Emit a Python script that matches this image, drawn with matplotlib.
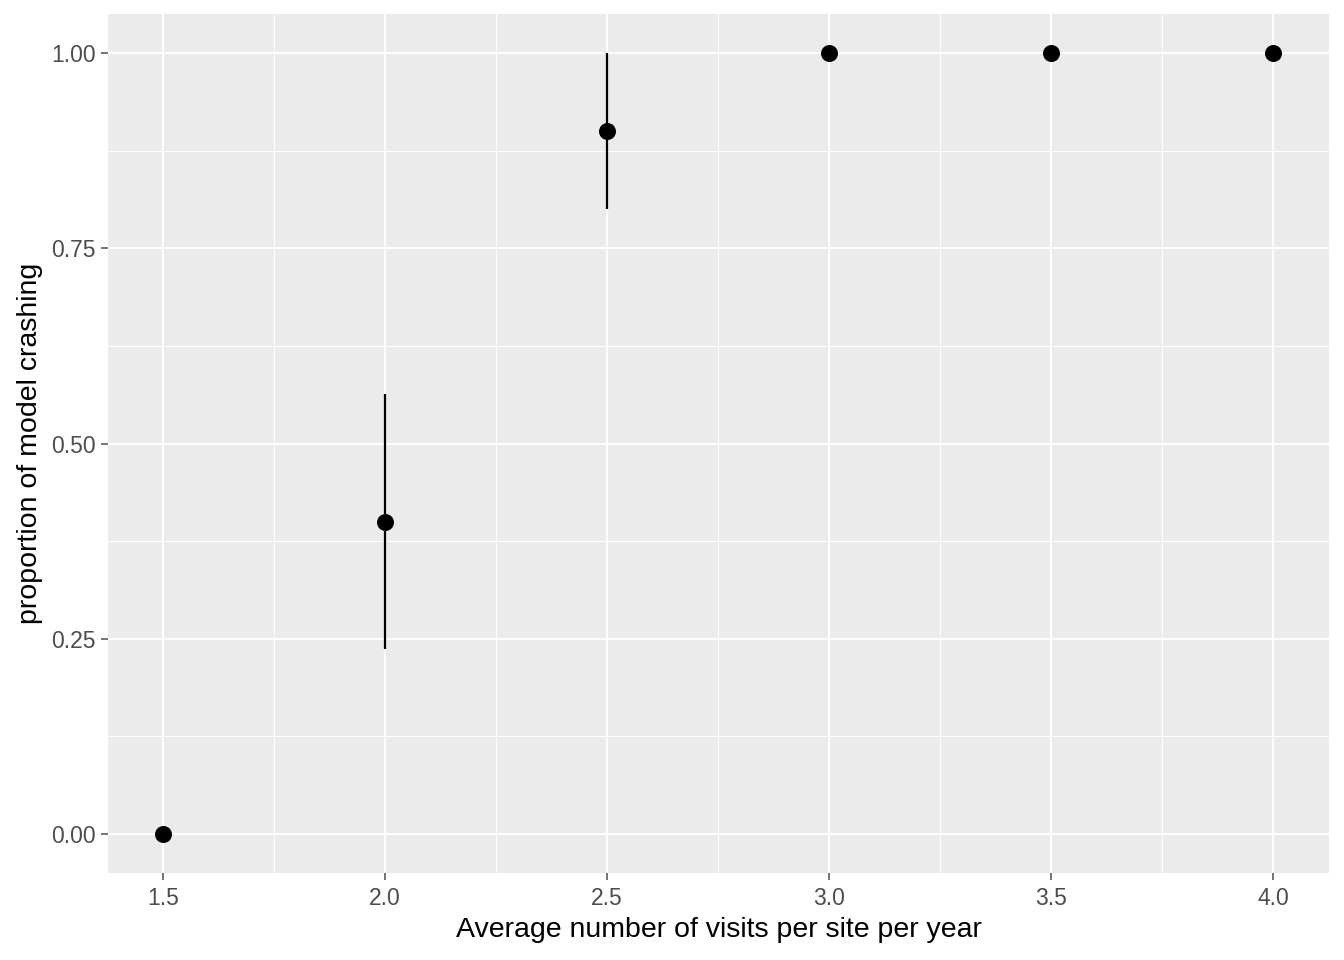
import numpy as np
import matplotlib.pyplot as plt

visits = [1.5, 2.0, 2.5, 3.0, 3.5, 4.0]
prop_crash = [0.0, 0.4, 0.9, 1.0, 1.0, 1.0]
lower = [0.0, 0.237, 0.8, 1.0, 1.0, 1.0]
upper = [0.0, 0.563, 1.0, 1.0, 1.0, 1.0]

xticks = [1.5, 2.0, 2.5, 3.0, 3.5, 4.0]
xticklabels = ['1.5', '2.0', '2.5', '3.0', '3.5', '4.0']
yticks = [0.0, 0.25, 0.5, 0.75, 1.0]
yticklabels = ['0.00', '0.25', '0.50', '0.75', '1.00']

plt.rcParams['font.family'] = ['Liberation Sans', 'DejaVu Sans']

fig = plt.figure(figsize=(13.44, 9.6), dpi=100)
ax = fig.add_axes([0.0804, 0.0906, 0.9084, 0.8948])
ax.set_facecolor('#EBEBEB')

# minor grid lines halfway between the breaks
for x in np.array(xticks[:-1]) + 0.25:
    ax.axvline(x, color='white', lw=0.7, zorder=0)
for y in np.array(yticks[:-1]) + 0.125:
    ax.axhline(y, color='white', lw=0.7, zorder=0)
for x in xticks:
    ax.axvline(x, color='white', lw=1.4, zorder=0)
for y in yticks:
    ax.axhline(y, color='white', lw=1.4, zorder=0)

ax.vlines(visits, lower, upper, color='black', lw=1.6, zorder=2)
ax.scatter(visits, prop_crash, s=150, color='black', zorder=3, linewidths=0)

ax.set_xlim(1.376, 4.126)
ax.set_ylim(-0.05, 1.05)
ax.set_xticks(xticks)
ax.set_xticklabels(xticklabels)
ax.set_yticks(yticks)
ax.set_yticklabels(yticklabels)
ax.tick_params(axis='both', colors='#4D4D4D', labelsize=16.5, length=5, width=1.1)
ax.tick_params(axis='x', pad=5)
ax.tick_params(axis='y', pad=4)
for s in ax.spines.values():
    s.set_visible(False)

ax.set_xlabel('Average number of visits per site per year', fontsize=20.5, color='black', labelpad=5)
ax.set_ylabel('proportion of model crashing', fontsize=20.5, color='black', labelpad=6)

fig.savefig('out.png', dpi=100)
